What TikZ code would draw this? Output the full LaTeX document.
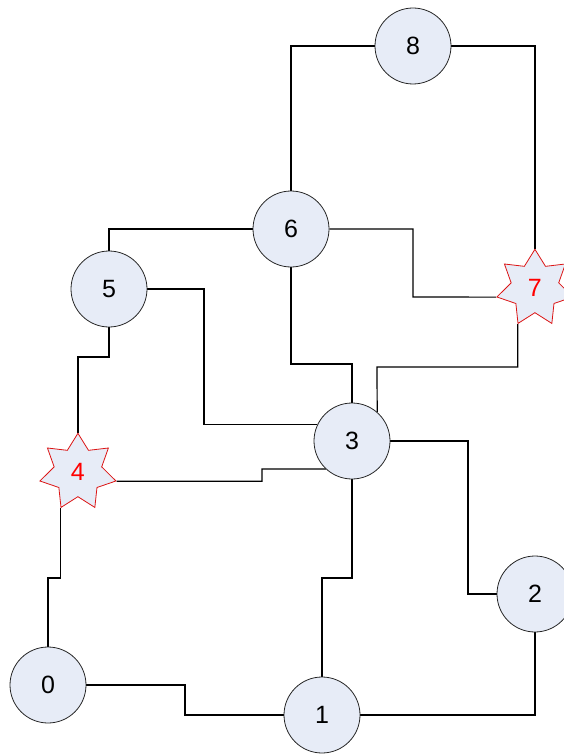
\documentclass[tikz,border=0pt]{standalone}
\usepackage{fontspec}
\setmainfont{Liberation Sans}
\usetikzlibrary{shapes.geometric}
\definecolor{nodefill}{RGB}{231,236,247}
\definecolor{starred}{RGB}{220,20,20}
\pgfdeclarelayer{bg}
\pgfsetlayers{bg,main}
\tikzset{
  circ/.style={circle, draw=black!85, line width=0.8pt, fill=nodefill, minimum size=76pt, inner sep=0pt, font=\fontsize{25}{28}\selectfont},
  starnode/.style={star, star points=7, star point ratio=1.6, draw=starred, line width=0.8pt, fill=nodefill, minimum size=78pt, inner sep=0pt, text=red, font=\fontsize{25}{28}\selectfont},
  link/.style={draw=black, line width=1.2pt}
}
\begin{document}
\begin{tikzpicture}[x=1pt, y=-1pt]
\useasboundingbox (0,0) rectangle (564,754);
\node[circ] (n0) at (48,685) {0};
\node[circ] (n1) at (322,715) {1};
\node[circ] (n2) at (535,594) {2};
\node[circ] (n3) at (352,441) {3};
\node[starnode] (n4) at (77.92,472.3) {4};
\node[circ] (n5) at (109,289) {5};
\node[circ] (n6) at (291,229) {6};
\node[starnode] (n7) at (534.92,288.3) {7};
\node[circ] (n8) at (413,46) {8};
\begin{pgfonlayer}{bg}
\draw[link] (n8.west) -| (n6.north);
\draw[link] (n8.east) -| (n7.outer point 1);
\draw[link] (n6.west) -| (n5.north);
\draw[link] (n6.east) -| (413,297) -- (n7.outer point 3);
\draw[link] (n6.south) -- (291,364) -| (n3.north);
\draw[link] (n7.outer point 4) |- (377,367) -- (n3.49);
\draw[link] (n5.east) -- (204,289) |- (n3.155);
\draw[link] (n4.outer point 6) -| (262,469) -- (n3.227.5);
\draw[link] (n5.south) -- (109,357) -| (n4.outer point 1);
\draw[link] (n4.outer point 4) |- (48,578) -- (n0.north);
\draw[link] (n0.east) -- (185,685) |- (n1.west);
\draw[link] (n3.south) -- (352,578) -| (n1.north);
\draw[link] (n1.east) -| (n2.south);
\draw[link] (n3.east) -- (468,441) |- (n2.west);
\end{pgfonlayer}
\end{tikzpicture}
\end{document}
